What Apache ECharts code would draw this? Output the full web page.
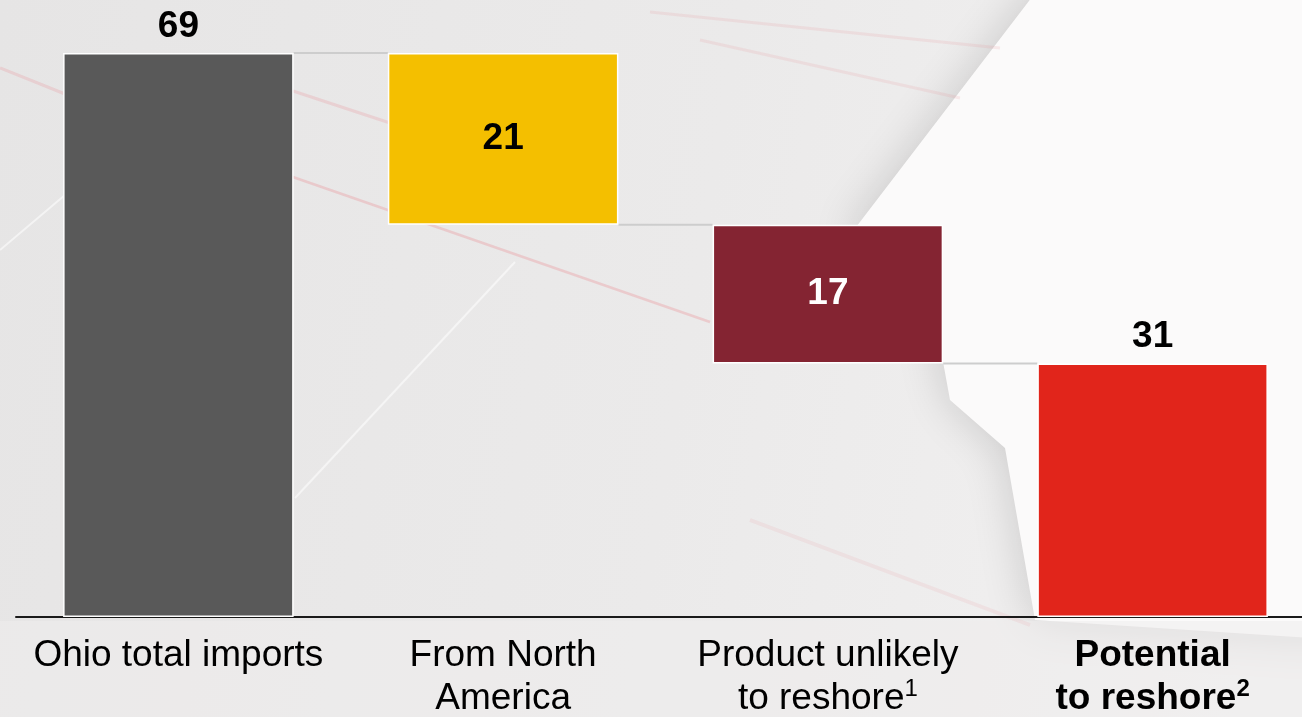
<!DOCTYPE html>
<html>
<head>
<meta charset="utf-8">
<script src="https://cdn.jsdelivr.net/npm/echarts@6/dist/echarts.min.js"></script>
<style>
html,body{margin:0;padding:0;width:1302px;height:717px;overflow:hidden;background:#ebeaea;}
#chart{width:1315px;height:717px;}
</style>
</head>
<body>
<div id="chart"></div>
<script>
// ---- data ----
const categories = ['Ohio total imports', 'From North\nAmerica', 'Product unlikely\nto reshore', 'Potential\nto reshore'];
const footnotes = ['', '', '1', '2'];
const boldCategory = [false, false, false, true];
const values = [69, 21, 17, 31];
const stepKind = ['total', 'minus', 'minus', 'total'];
const barColors = ['#595959', '#F4BF00', '#842432', '#E1251B'];
const labelColors = ['#000000', '#000000', '#ffffff', '#000000'];
const labelPlacement = ['top', 'inside', 'inside', 'top'];

// ---- derived waterfall table ----
const bases = [];
const levels = [];
let running = 0;
values.forEach((v, i) => {
  if (stepKind[i] === 'total') { bases.push(0); running = v; }
  else { running -= v; bases.push(running); }
  levels.push(stepKind[i] === 'total' ? v : running);
});
const connectors = [];
for (let i = 0; i < values.length - 1; i++) connectors.push([i, levels[i]]);

const FONT = '"Liberation Sans", Arial, sans-serif';
const chart = echarts.init(document.getElementById('chart'));

const option = {
  backgroundColor: {
    type: 'linear', x: 0, y: 0, x2: 1, y2: 0.3,
    colorStops: [
      { offset: 0, color: '#e6e5e5' },
      { offset: 0.55, color: '#ebeaea' },
      { offset: 1, color: '#f2f1f1' }
    ]
  },
  animation: false,
  graphic: [
    { type: 'polygon', silent: true, z: -10,
      shape: { points: [[1045, -20], [850, 235], [935, 318], [950, 400], [1005, 448], [1035, 620], [1340, 640], [1340, -20]] },
      style: { fill: '#fbfafa', shadowBlur: 45, shadowColor: 'rgba(0,0,0,0.16)' } },
    { type: 'polygon', silent: true, z: -9,
      shape: { points: [[0, 621], [1315, 621], [1315, 717], [0, 717]] },
      style: { fill: 'rgba(238,237,237,0.55)' } },
    { type: 'line', silent: true, z: -8, shape: { x1: 0, y1: 68, x2: 70, y2: 96 }, style: { stroke: 'rgba(235,120,130,0.2)', lineWidth: 3 } },
    { type: 'line', silent: true, z: -8, shape: { x1: 290, y1: 90, x2: 390, y2: 123 }, style: { stroke: 'rgba(235,120,130,0.2)', lineWidth: 3 } },
    { type: 'line', silent: true, z: -8, shape: { x1: 290, y1: 176, x2: 710, y2: 322 }, style: { stroke: 'rgba(235,110,120,0.25)', lineWidth: 2.5 } },
    { type: 'line', silent: true, z: -8, shape: { x1: 650, y1: 12, x2: 1000, y2: 48 }, style: { stroke: 'rgba(235,120,130,0.13)', lineWidth: 3 } },
    { type: 'line', silent: true, z: -8, shape: { x1: 700, y1: 40, x2: 960, y2: 98 }, style: { stroke: 'rgba(235,120,130,0.13)', lineWidth: 3 } },
    { type: 'line', silent: true, z: -8, shape: { x1: 750, y1: 520, x2: 1030, y2: 625 }, style: { stroke: 'rgba(235,120,130,0.1)', lineWidth: 4 } },
    { type: 'line', silent: true, z: -8, shape: { x1: 0, y1: 250, x2: 65, y2: 195 }, style: { stroke: 'rgba(255,255,255,0.55)', lineWidth: 2 } },
    { type: 'line', silent: true, z: -8, shape: { x1: 295, y1: 498, x2: 515, y2: 262 }, style: { stroke: 'rgba(255,255,255,0.55)', lineWidth: 2 } }
  ],
  grid: { left: 16, right: 0, top: 53, bottom: 98, containLabel: false },
  xAxis: {
    type: 'category',
    data: categories,
    axisLine: { show: true, lineStyle: { color: '#1a1a1a', width: 2 } },
    axisTick: { show: false },
    axisLabel: {
      interval: 0,
      margin: 17,
      formatter: function (val, idx) {
        const tag = boldCategory[idx] ? 'b' : 'n';
        const lines = val.split('\n').map(l => '{' + tag + '|' + l + '}');
        if (footnotes[idx]) lines[lines.length - 1] += '{' + (boldCategory[idx] ? 'sb' : 's') + '|' + footnotes[idx] + '}';
        return lines.join('\n');
      },
      rich: {
        n: { fontFamily: FONT, fontSize: 37, lineHeight: 43, color: '#000' },
        b: { fontFamily: FONT, fontSize: 37, lineHeight: 43, color: '#000', fontWeight: 'bold' },
        s: { fontFamily: FONT, fontSize: 24, lineHeight: 30, color: '#000', verticalAlign: 'top' },
        sb: { fontFamily: FONT, fontSize: 24, lineHeight: 30, color: '#000', fontWeight: 'bold', verticalAlign: 'top' }
      }
    }
  },
  yAxis: { type: 'value', min: 0, max: 69, show: false, splitLine: { show: false } },
  series: [
    {
      type: 'custom',
      z: 1,
      silent: true,
      data: connectors,
      renderItem: function (params, api) {
        const i = api.value(0), lvl = api.value(1);
        const a = api.coord([i, lvl]);
        const b = api.coord([i + 1, lvl]);
        const hw = api.size([1, 0])[0] * 0.71 / 2;
        return { type: 'line', shape: { x1: a[0] + hw, y1: a[1], x2: b[0] - hw, y2: b[1] },
          style: { stroke: '#cdcdcd', lineWidth: 2 } };
      }
    },
    {
      type: 'bar', stack: 'w', barWidth: '71%', silent: true, z: 2,
      itemStyle: { color: 'transparent', borderWidth: 0 },
      data: bases
    },
    {
      type: 'bar', stack: 'w', barWidth: '71%', z: 3,
      data: values.map((v, i) => ({
        value: v,
        itemStyle: { color: barColors[i], borderColor: '#ffffff', borderWidth: 1.5 },
        label: {
          show: true, position: labelPlacement[i], distance: 8,
          color: labelColors[i], fontFamily: FONT, fontSize: 37, fontWeight: 'bold'
        }
      }))
    }
  ]
};
chart.setOption(option);
</script>
</body>
</html>
